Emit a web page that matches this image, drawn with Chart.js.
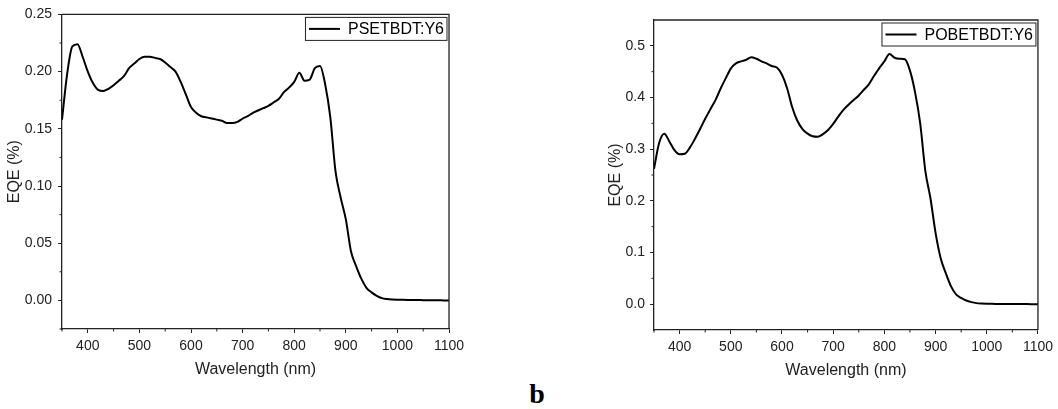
<!DOCTYPE html>
<html>
<head>
<meta charset="utf-8">
<title>EQE spectra</title>
<script src="https://cdn.jsdelivr.net/npm/chart.js@4.4.1/dist/chart.umd.min.js"></script>
<style>
    html, body { margin: 0; padding: 0; background: #fff; }
    body { width: 1058px; height: 409px; position: relative; overflow: hidden; }
    #chartLeft { position: absolute; left: 0; top: 0; }
    #chartRight { position: absolute; left: 590px; top: 0; }
    #panelLabel {
        position: absolute; left: 487px; width: 100px; top: 380px;
        text-align: center; color: #000;
        font: bold 28px 'Liberation Serif', 'Times New Roman', serif; line-height: 28px;
    }
</style>
</head>
<body>
<canvas id="chartLeft" width="470" height="380"></canvas>
<canvas id="chartRight" width="468" height="380"></canvas>
<div id="panelLabel">b</div>
<script>
// wavelength (nm), one reading every 10 nm
const wavelengths = [
    350, 360, 370, 380, 390, 400, 410, 420, 430, 440, 450, 460, 470, 480, 490,
    500, 510, 520, 530, 540, 550, 560, 570, 580, 590, 600, 610, 620, 630, 640,
    650, 660, 670, 680, 690, 700, 710, 720, 730, 740, 750, 760, 770, 780, 790,
    800, 810, 820, 830, 840, 850, 860, 870, 880, 890, 900, 910, 920, 930, 940,
    950, 960, 970, 980, 990, 1000, 1010, 1020, 1030, 1040, 1050, 1060, 1070, 1080, 1090, 1100
];

const eqePSETBDT = [
    0.158, 0.198, 0.222, 0.224, 0.213, 0.200, 0.190, 0.184, 0.183, 0.185, 0.188, 0.192, 0.196, 0.203, 0.207,
    0.211, 0.213, 0.213, 0.212, 0.211, 0.208, 0.204, 0.200, 0.191, 0.180, 0.169, 0.164, 0.161, 0.160, 0.159,
    0.158, 0.157, 0.155, 0.155, 0.156, 0.159, 0.161, 0.164, 0.166, 0.168, 0.170, 0.173, 0.176, 0.182, 0.186,
    0.191, 0.199, 0.192, 0.193, 0.203, 0.205, 0.189, 0.160, 0.113, 0.090, 0.071, 0.043, 0.030, 0.019, 0.011,
    0.007, 0.004, 0.002, 0.0012, 0.0008, 0.0006, 0.0005, 0.0004, 0.0003, 0.0003, 0.0002, 0.0002, 0.0001, 0.0001, 0.0, 0.0
];

const eqePOBETBDT = [
    0.262, 0.312, 0.330, 0.315, 0.298, 0.290, 0.291, 0.303, 0.320, 0.339, 0.359, 0.377, 0.395, 0.417, 0.437,
    0.456, 0.466, 0.470, 0.473, 0.478, 0.475, 0.470, 0.466, 0.461, 0.458, 0.444, 0.418, 0.381, 0.355, 0.339,
    0.330, 0.325, 0.324, 0.329, 0.337, 0.349, 0.363, 0.376, 0.386, 0.395, 0.404, 0.415, 0.426, 0.442, 0.457,
    0.470, 0.484, 0.477, 0.475, 0.474, 0.452, 0.410, 0.350, 0.258, 0.205, 0.138, 0.089, 0.060, 0.035, 0.019,
    0.012, 0.007, 0.004, 0.002, 0.0012, 0.0008, 0.0006, 0.0005, 0.0004, 0.0003, 0.0002, 0.0002, 0.0001, 0.0001, 0.0, 0.0
];

// axis ticks
const xTicks = [400, 500, 600, 700, 800, 900, 1000, 1100];
const xMinorTicks = [350, 450, 550, 650, 750, 850, 950, 1050];
const yTicksLeft = [0, 0.05, 0.10, 0.15, 0.20, 0.25];
const yMinorLeft = [-0.025, 0.025, 0.075, 0.125, 0.175, 0.225];
const yTicksRight = [0, 0.1, 0.2, 0.3, 0.4, 0.5];
const yMinorRight = [0.05, 0.15, 0.25, 0.35, 0.45];

const colors = {
    line: '#000000',
    axis: '#222222',
    text: '#222222'
};
const FONT = "'Liberation Sans', Arial, sans-serif";

// Origin-style extras: closed frame, minor ticks, boxed legend
const originFrame = {
    id: 'originFrame',
    afterDraw(chart, args, opts) {
        const { ctx, chartArea: a, scales } = chart;
        ctx.save();

        ctx.strokeStyle = colors.axis;
        ctx.lineWidth = 1.3;
        ctx.beginPath();
        ctx.moveTo(a.left, a.top);
        ctx.lineTo(a.right, a.top);
        ctx.lineTo(a.right, a.bottom);
        ctx.stroke();

        ctx.lineWidth = 1;
        ctx.beginPath();
        opts.xMinor.forEach(v => {
            const px = scales.x.getPixelForValue(v);
            ctx.moveTo(px, a.bottom);
            ctx.lineTo(px, a.bottom + 2.5);
        });
        opts.yMinor.forEach(v => {
            const py = scales.y.getPixelForValue(v);
            ctx.moveTo(a.left, py);
            ctx.lineTo(a.left - 2.5, py);
        });
        ctx.stroke();

        // legend
        const label = chart.data.datasets[0].label;
        ctx.font = `16px ${FONT}`;
        const tw = ctx.measureText(label).width;
        const boxW = 3.5 + 31 + 8 + tw + 3;
        const boxH = 23;
        const bx = a.right - 2 - boxW;
        const by = a.top + 3;
        ctx.strokeStyle = colors.axis;
        ctx.lineWidth = 1;
        ctx.strokeRect(bx, by, boxW, boxH);

        ctx.strokeStyle = colors.line;
        ctx.lineWidth = 2;
        ctx.beginPath();
        ctx.moveTo(bx + 3.5, by + boxH / 2);
        ctx.lineTo(bx + 34.5, by + boxH / 2);
        ctx.stroke();

        ctx.fillStyle = '#000';
        ctx.textBaseline = 'middle';
        ctx.textAlign = 'left';
        ctx.fillText(label, bx + 42.5, by + boxH / 2 + 1);
        ctx.restore();
    }
};

function createEqeChart(canvasId, label, values, cfg) {
    const ctx = document.getElementById(canvasId).getContext('2d');

    return new Chart(ctx, {
        type: 'line',
        data: {
            datasets: [{
                label: label,
                data: wavelengths.map((w, i) => ({ x: w, y: values[i] })),
                borderColor: colors.line,
                borderWidth: 2,
                pointRadius: 0,
                fill: false,
                cubicInterpolationMode: 'monotone'
            }]
        },
        options: {
            responsive: false,
            devicePixelRatio: 1,
            animation: false,
            events: [],
            layout: { padding: { top: cfg.padTop, right: cfg.padRight, left: 0, bottom: 0 } },
            plugins: {
                legend: { display: false },
                tooltip: { enabled: false },
                originFrame: { xMinor: xMinorTicks, yMinor: cfg.yMinor }
            },
            scales: {
                x: {
                    type: 'linear',
                    min: 350,
                    max: 1100,
                    afterBuildTicks: s => { s.ticks = xTicks.map(v => ({ value: v })); },
                    afterFit: s => { s.height = cfg.xHeight; },
                    grid: { drawOnChartArea: false, tickLength: 4, tickColor: colors.axis, tickWidth: 1 },
                    border: { color: colors.axis, width: 1.3 },
                    ticks: {
                        color: colors.text,
                        font: { family: FONT, size: 14 },
                        padding: 5,
                        maxRotation: 0,
                        autoSkip: false,
                        callback: v => String(v)
                    },
                    title: {
                        display: true,
                        text: 'Wavelength (nm)',
                        color: colors.text,
                        font: { family: FONT, size: 16 },
                        padding: { top: 0, bottom: cfg.xTitlePad }
                    }
                },
                y: {
                    min: cfg.yMin,
                    max: cfg.yMax,
                    afterBuildTicks: s => { s.ticks = cfg.yTicks.map(v => ({ value: v })); },
                    afterFit: s => { s.width = cfg.yWidth; },
                    grid: { drawOnChartArea: false, tickLength: 4, tickColor: colors.axis, tickWidth: 1 },
                    border: { color: colors.axis, width: 1.3 },
                    ticks: {
                        color: colors.text,
                        font: { family: FONT, size: 14 },
                        padding: cfg.yTickPad,
                        callback: v => v.toFixed(cfg.decimals)
                    },
                    title: {
                        display: true,
                        text: 'EQE (%)',
                        color: colors.text,
                        font: { family: FONT, size: 16 },
                        padding: { top: cfg.yTitlePad, bottom: 0 }
                    }
                }
            }
        },
        plugins: [originFrame]
    });
}

function init() {
    createEqeChart('chartLeft', 'PSETBDT:Y6', eqePSETBDT, {
        yMin: -0.025, yMax: 0.25, yTicks: yTicksLeft, yMinor: yMinorLeft, decimals: 2,
        padTop: 13, padRight: 21, yWidth: 62, xHeight: 51,
        yTickPad: 6, yTitlePad: 5, xTitlePad: 0.5
    });
    createEqeChart('chartRight', 'POBETBDT:Y6', eqePOBETBDT, {
        yMin: -0.05, yMax: 0.55, yTicks: yTicksRight, yMinor: yMinorRight, decimals: 1,
        padTop: 20, padRight: 16, yWidth: 64, xHeight: 50,
        yTickPad: 5, yTitlePad: 15.5, xTitlePad: 0
    });
}

window.addEventListener('DOMContentLoaded', init);
</script>
</body>
</html>
